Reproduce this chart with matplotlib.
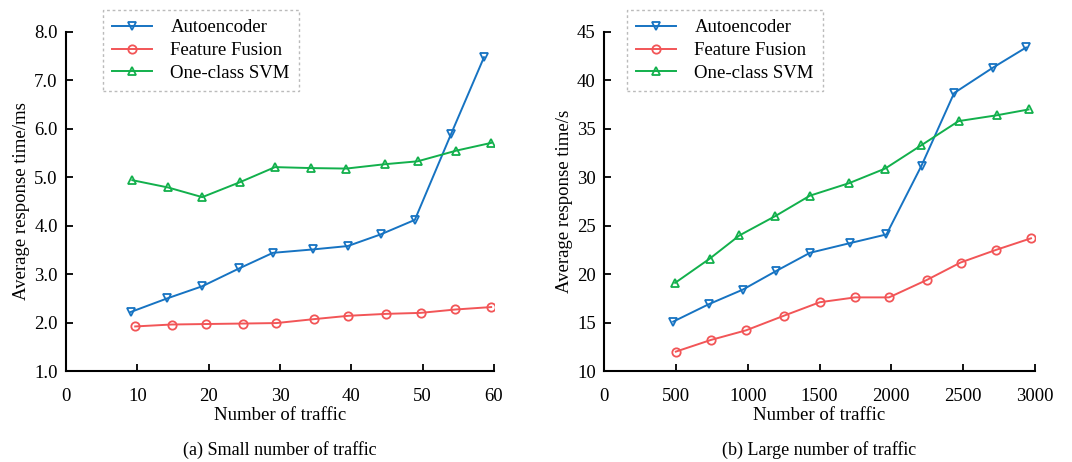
import matplotlib
matplotlib.use("Agg")
import matplotlib.pyplot as plt

plt.rcParams["font.family"] = ["Liberation Serif", "DejaVu Serif"]

# (a) small number of traffic
small_ae_x = [9.1, 14.2, 19.1, 24.3, 29.0, 34.6, 39.5, 44.1, 48.9, 54.0, 58.6]
small_ae_y = [2.22, 2.50, 2.75, 3.12, 3.44, 3.51, 3.58, 3.82, 4.12, 5.90, 7.48]
small_ff_x = [9.7, 14.8, 19.6, 24.8, 29.5, 34.7, 39.6, 44.9, 49.7, 54.6, 59.6]
small_ff_y = [1.92, 1.96, 1.97, 1.98, 1.99, 2.07, 2.14, 2.18, 2.20, 2.27, 2.32]
small_svm_x = [9.3, 14.3, 19.1, 24.4, 29.3, 34.4, 39.3, 44.7, 49.3, 54.7, 59.6]
small_svm_y = [4.94, 4.79, 4.59, 4.90, 5.21, 5.19, 5.18, 5.27, 5.33, 5.55, 5.71]

# (b) large number of traffic
large_ae_x = [482, 730, 966, 1195, 1433, 1711, 1966, 2210, 2437, 2705, 2938]
large_ae_y = [15.1, 16.9, 18.4, 20.3, 22.2, 23.2, 24.1, 31.2, 38.7, 41.3, 43.4]
large_ff_x = [500, 743, 989, 1251, 1502, 1748, 1984, 2247, 2482, 2728, 2972]
large_ff_y = [12.0, 13.2, 14.2, 15.7, 17.1, 17.6, 17.6, 19.4, 21.2, 22.5, 23.7]
large_svm_x = [495, 736, 943, 1193, 1433, 1707, 1957, 2208, 2468, 2733, 2955]
large_svm_y = [19.1, 21.6, 24.0, 26.0, 28.1, 29.4, 30.9, 33.3, 35.8, 36.4, 37.0]

labels = ["Autoencoder", "Feature Fusion", "One-class SVM"]
colors = ["#1673c2", "#f25557", "#12b04c"]
markers = ["v", "o", "^"]

small_xticks = [0, 10, 20, 30, 40, 50, 60]
small_yticks = [1.0, 2.0, 3.0, 4.0, 5.0, 6.0, 7.0, 8.0]
large_xticks = [0, 500, 1000, 1500, 2000, 2500, 3000]
large_yticks = [10, 15, 20, 25, 30, 35, 40, 45]

FS = 13.5

fig = plt.figure(figsize=(10.72, 4.62), dpi=100)
ax1 = fig.add_axes([66 / 1072, 1 - 371 / 462, 428 / 1072, 339 / 462])
ax2 = fig.add_axes([604 / 1072, 1 - 371 / 462, 431 / 1072, 339 / 462])


def draw_panel(ax, series, xticks, yticks, yfmt, ylabel, legend_x):
    for (x, y), lab, c, m in zip(series, labels, colors, markers):
        ax.plot(x, y, color=c, linewidth=1.4, marker=m, markersize=6,
                markerfacecolor="none", markeredgecolor=c, markeredgewidth=1.3,
                label=lab)
    ax.set_xlim(xticks[0], xticks[-1])
    ax.set_ylim(yticks[0], yticks[-1])
    ax.set_xticks(xticks)
    ax.set_yticks(yticks)
    ax.set_yticklabels([yfmt.format(v) for v in yticks])
    ax.spines["top"].set_visible(False)
    ax.spines["right"].set_visible(False)
    ax.spines["left"].set_linewidth(1.5)
    ax.spines["bottom"].set_linewidth(1.5)
    ax.tick_params(direction="in", length=5, width=1.3, labelsize=FS)
    ax.tick_params(axis="x", pad=12)
    ax.tick_params(axis="y", pad=6)
    ax.set_xlabel("Number of traffic", fontsize=FS, labelpad=2)
    ax.set_ylabel(ylabel, fontsize=FS, labelpad=3)
    leg = ax.legend(loc="upper left", bbox_to_anchor=(legend_x, 1 - 10 / 462),
                    bbox_transform=fig.transFigure, fontsize=FS, frameon=True,
                    fancybox=False, handlelength=2.1, handletextpad=1.0,
                    labelspacing=0.3, borderpad=0.5, borderaxespad=0)
    leg.set_zorder(5)
    frame = leg.get_frame()
    frame.set_edgecolor("#aaaaaa")
    frame.set_linestyle((0, (2, 2)))
    frame.set_linewidth(1.0)


draw_panel(ax1,
           [(small_ae_x, small_ae_y), (small_ff_x, small_ff_y), (small_svm_x, small_svm_y)],
           small_xticks, small_yticks, "{:.1f}", "Average response time/ms",
           103 / 1072)
draw_panel(ax2,
           [(large_ae_x, large_ae_y), (large_ff_x, large_ff_y), (large_svm_x, large_svm_y)],
           large_xticks, large_yticks, "{:.0f}", "Average response time/s",
           627 / 1072)

fig.text(280 / 1072, 1 - 450 / 462, "(a) Small number of traffic", ha="center",
         va="center", fontsize=FS - 0.5)
fig.text(819 / 1072, 1 - 450 / 462, "(b) Large number of traffic", ha="center",
         va="center", fontsize=FS - 0.5)

fig.savefig("out.png", dpi=100)
